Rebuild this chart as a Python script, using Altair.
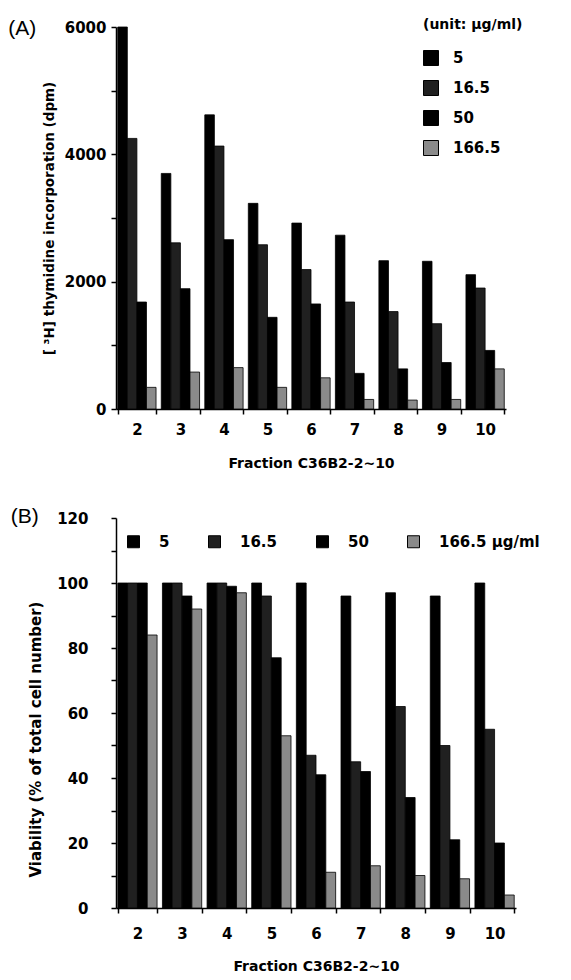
import altair as alt
import pandas as pd

fractions = ["2", "3", "4", "5", "6", "7", "8", "9", "10"]
doses = ["5", "16.5", "50", "166.5"]

# Panel A: [3H] thymidine incorporation (dpm)
dpm_5 = [6000, 3700, 4620, 3230, 2920, 2730, 2330, 2320, 2110]
dpm_16_5 = [4250, 2610, 4130, 2580, 2190, 1680, 1530, 1340, 1900]
dpm_50 = [1680, 1890, 2660, 1440, 1650, 560, 630, 730, 920]
dpm_166_5 = [340, 580, 650, 340, 490, 150, 140, 150, 630]

# Panel B: viability (% of total cell number)
via_5 = [100, 100, 100, 100, 100, 96, 97, 96, 100]
via_16_5 = [100, 100, 100, 96, 47, 45, 62, 50, 55]
via_50 = [100, 96, 99, 77, 41, 42, 34, 21, 20]
via_166_5 = [84, 92, 97, 53, 11, 13, 10, 9, 4]


def build(series):
    rows = []
    for i, f in enumerate(fractions):
        for d, vals in zip(doses, series):
            rows.append({"fraction": f, "dose": d, "value": vals[i]})
    return pd.DataFrame(rows)


dfA = build([dpm_5, dpm_16_5, dpm_50, dpm_166_5])
dfB = build([via_5, via_16_5, via_50, via_166_5])

FONT = "DejaVu Sans"
PFONT = "Liberation Sans"
colors = ["#000000", "#202020", "#000000", "#8a8a8a"]

axis_style = dict(
    labelFont=FONT, labelFontWeight="bold", labelFontSize=15, labelColor="black",
    titleFont=FONT, titleFontWeight="bold", titleColor="black",
    domainColor="black", domainWidth=1.5, tickColor="black", tickWidth=1.5,
    tickSize=5, grid=False,
)

label_style = dict(
    labelFont=FONT, labelFontWeight="bold", labelFontSize=15, labelColor="black",
    symbolType="square", symbolStrokeColor="black", symbolStrokeWidth=1,
)

chartA = alt.Chart(dfA).mark_bar(stroke="black", strokeWidth=0.8).encode(
    x=alt.X("fraction:N", sort=fractions, title="Fraction C36B2-2~10",
            scale=alt.Scale(paddingInner=0.12, paddingOuter=0.04),
            axis=alt.Axis(labelAngle=0, tickBand="extent", labelPadding=8,
                          titlePadding=19, titleFontSize=14, **axis_style)),
    xOffset=alt.XOffset("dose:N", sort=doses,
                        scale=alt.Scale(paddingInner=0, paddingOuter=0)),
    y=alt.Y("value:Q", title="[ ³H] thymidine incorporation (dpm)",
            scale=alt.Scale(domain=[0, 6000], nice=False),
            axis=alt.Axis(values=list(range(0, 6001, 1000)), format="d",
                          labelExpr="datum.value % 2000 == 0 ? datum.label : ''",
                          labelPadding=5, titlePadding=8, titleFontSize=13.5,
                          **axis_style)),
    color=alt.Color("dose:N", sort=doses,
                    scale=alt.Scale(domain=doses, range=colors),
                    legend=alt.Legend(title="(unit: μg/ml)", orient="none",
                                      legendX=307, legendY=-9,
                                      titleFont=FONT, titleFontWeight="bold",
                                      titleFontSize=14, titleColor="black",
                                      titlePadding=18, symbolSize=225,
                                      labelOffset=14, rowPadding=10,
                                      **label_style)),
).properties(
    width=390, height=382,
    title=alt.Title("(A)", anchor="start", frame="bounds", font=PFONT,
                    fontSize=21, fontWeight="normal", color="black",
                    offset=-21, dx=-34),
)

chartB = alt.Chart(dfB).mark_bar(stroke="black", strokeWidth=0.8).encode(
    x=alt.X("fraction:N", sort=fractions, title="Fraction C36B2-2~10",
            scale=alt.Scale(paddingInner=0.12, paddingOuter=0.04),
            axis=alt.Axis(labelAngle=0, tickBand="extent", labelPadding=13,
                          titlePadding=18, titleFontSize=14, **axis_style)),
    xOffset=alt.XOffset("dose:N", sort=doses,
                        scale=alt.Scale(paddingInner=0, paddingOuter=0)),
    y=alt.Y("value:Q", title="Viability (% of total cell number)",
            scale=alt.Scale(domain=[0, 120], nice=False),
            axis=alt.Axis(values=list(range(0, 121, 10)), format="d",
                          labelExpr="datum.value % 20 == 0 ? datum.label : ''",
                          labelPadding=23, titlePadding=13, titleFontSize=15,
                          titleY=221, **axis_style)),
    color=alt.Color("dose:N", sort=doses,
                    scale=alt.Scale(domain=doses, range=colors),
                    legend=alt.Legend(title=None, orient="none",
                                      direction="horizontal", columns=4,
                                      legendX=10, legendY=16,
                                      labelExpr="datum.label == '166.5' ? '166.5 μg/ml' : datum.label",
                                      symbolSize=144, labelOffset=18,
                                      columnPadding=36, **label_style)),
).properties(
    width=400, height=390,
    title=alt.Title("(B)", anchor="start", frame="bounds", font=PFONT,
                    fontSize=21, fontWeight="normal", color="black",
                    offset=-16, dx=-18),
)

chart = alt.vconcat(chartA, chartB, spacing=36).resolve_scale(
    color="independent", x="independent", y="independent", xOffset="independent"
).resolve_legend(color="independent").properties(
    padding={"top": 10, "left": 0, "right": 0, "bottom": 0}
).configure_view(stroke=None)

chart.save("out.html", embed_options={"renderer": "svg", "actions": False})
